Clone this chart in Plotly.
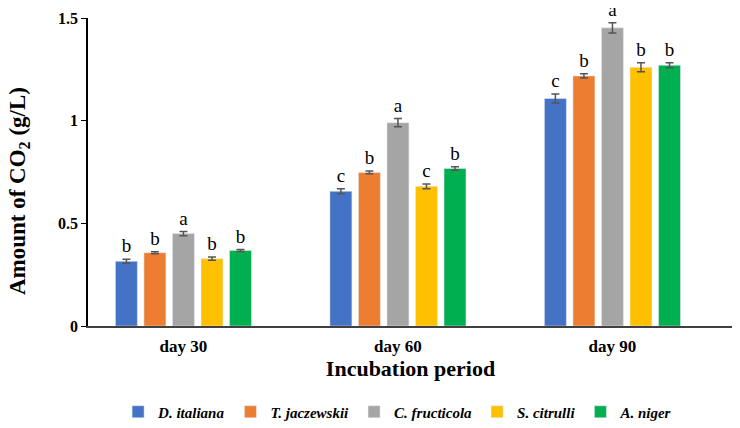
import plotly.graph_objects as go

periods = ["day 30", "day 60", "day 90"]
species = ["D. italiana", "T. jaczewskii", "C. fructicola", "S. citrulli", "A. niger"]
colors = ["#4472C4", "#ED7D31", "#A5A5A5", "#FFC000", "#00B050"]

values = {
    "D. italiana":   [0.315, 0.656, 1.108],
    "T. jaczewskii": [0.357, 0.748, 1.218],
    "C. fructicola": [0.450, 0.990, 1.452],
    "S. citrulli":   [0.328, 0.680, 1.260],
    "A. niger":      [0.368, 0.767, 1.270],
}
errors = {
    "D. italiana":   [0.010, 0.012, 0.022],
    "T. jaczewskii": [0.005, 0.007, 0.010],
    "C. fructicola": [0.010, 0.020, 0.025],
    "S. citrulli":   [0.008, 0.012, 0.022],
    "A. niger":      [0.005, 0.008, 0.012],
}
letters = {
    "D. italiana":   ["b", "c", "c"],
    "T. jaczewskii": ["b", "b", "b"],
    "C. fructicola": ["a", "a", "a"],
    "S. citrulli":   ["b", "c", "b"],
    "A. niger":      ["b", "b", "b"],
}
label_gap = 0.010  # space between error bar top and significance letter

serif = "Liberation Serif"
fig = go.Figure()
for i, s in enumerate(species):
    fig.add_trace(go.Bar(
        x=periods, y=values[s], name=s, marker_color=colors[i],
        offsetgroup=str(i), alignmentgroup="g",
        error_y=dict(type="data", array=errors[s], color="#555555", thickness=1.5, width=4),
    ))
for i, s in enumerate(species):
    fig.add_trace(go.Scatter(
        x=periods, y=[v + e + label_gap for v, e in zip(values[s], errors[s])],
        mode="text", text=letters[s], textposition="top center",
        textfont=dict(family=serif, size=19, color="#000000"),
        offsetgroup=str(i), alignmentgroup="g",
        showlegend=False, cliponaxis=False, hoverinfo="skip",
    ))

fig.update_layout(
    width=740, height=428,
    margin=dict(l=80, r=15, t=10, b=110, autoexpand=False),
    paper_bgcolor="white", plot_bgcolor="white",
    barmode="group", scattermode="group",
    bargap=0.335, bargroupgap=0.23,
    font=dict(family=serif, color="#000000"),
    legend=dict(
        orientation="h", xref="paper", x=0.48, xanchor="center",
        yref="paper", y=-0.2256, yanchor="top",
        font=dict(family=serif, size=15, weight="bold", style="italic"),
        itemwidth=30, traceorder="normal",
    ),
    showlegend=True,
    annotations=[dict(
        text="<b>Amount of CO<sub>2</sub> (g/L)</b>", textangle=-90,
        xref="paper", yref="paper", x=-0.107, y=0.438,
        xanchor="center", yanchor="middle", showarrow=False,
        font=dict(family=serif, size=23, color="#000000"),
    )],
)
fig.update_xaxes(
    range=[-0.445, 2.562], automargin=False,
    showline=True, linecolor="#404040", linewidth=1.5,
    tickfont=dict(family=serif, size=17, weight="bold"),
    ticklabelstandoff=4,
    title=dict(text="Incubation period", font=dict(family=serif, size=22, weight="bold"), standoff=4),
    showgrid=False, ticks="",
)
fig.update_yaxes(
    range=[0, 1.5], automargin=False,
    tickvals=[0, 0.5, 1, 1.5], ticktext=["0", "0.5", "1", "1.5"],
    showline=True, linecolor="#000000", linewidth=1.5,
    ticks="outside", ticklen=5, tickcolor="#000000",
    tickfont=dict(family=serif, size=16, weight="bold"),
    showgrid=False, zeroline=False,
)

fig.write_html("out.html")
